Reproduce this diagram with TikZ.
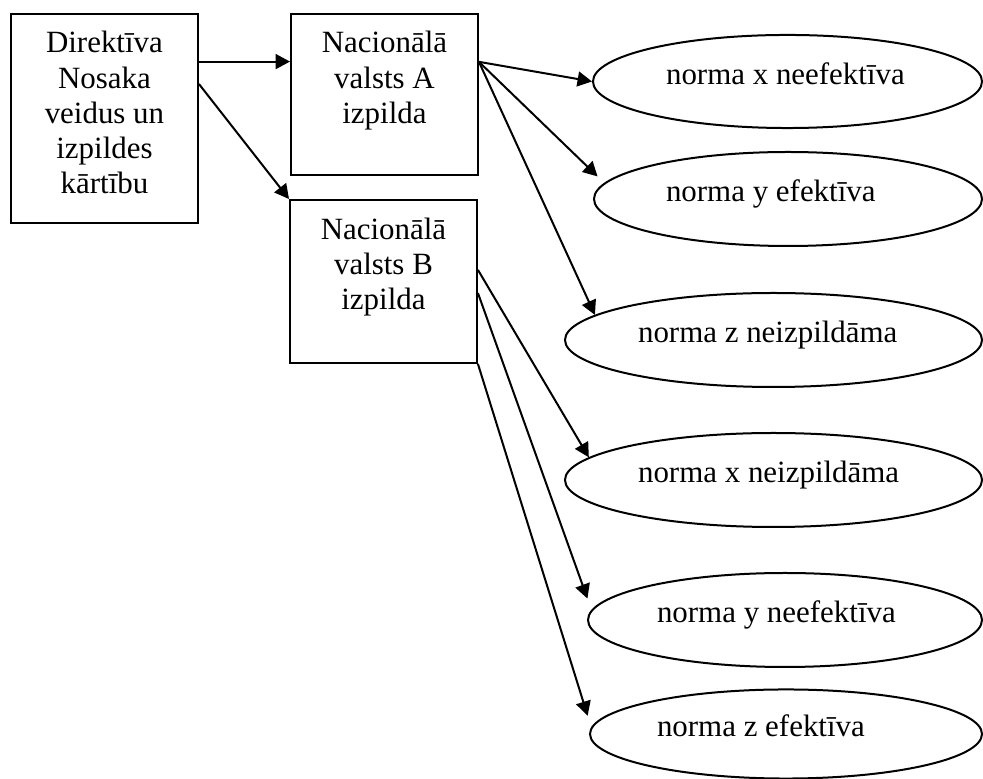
\documentclass[tikz,border=0pt]{standalone}
\usepackage{fontspec}
\setmainfont{Liberation Serif}
\usetikzlibrary{shapes.geometric,arrows.meta}

\begin{document}
\begin{tikzpicture}[x=0.375pt,y=-0.375pt,
	font=\fontsize{11.6pt}{13.2pt}\selectfont,
	line width=0.75pt,
	>={Triangle[length=5.4pt,width=5.6pt]},
	box/.style={draw,rectangle,anchor=north west,inner sep=0pt,text width=70.1pt,align=flush center,text height=14.7pt},
	norm/.style={draw,ellipse,inner sep=0pt,align=flush left,text height=6pt,text depth=3.75pt}]
	\useasboundingbox (0,0) rectangle (983,779);
	\node[box,text depth=63.8pt] (dir) at (10,12.7) {Direktīva\\ Nosaka\\ veidus un\\ izpildes\\ kārtību};
	\node[box,text depth=45.8pt] (natA) at (290,12.7) {Nacionālā\\ valsts A\\ izpilda};
	\node[box,text depth=46.4pt] (natB) at (289,199) {Nacionālā\\ valsts B\\ izpilda};
	\node[norm,minimum width=145.9pt,minimum height=34.9pt,text width=91.1pt] (xNe) at (787.5,81.5) {norma x neefektīva};
	\node[norm,minimum width=145.5pt,minimum height=35.25pt,text width=91.5pt] (yEf) at (788,199) {norma y efektīva};
	\node[norm,minimum width=156.4pt,minimum height=35.25pt,text width=101.6pt] (zNi) at (773.5,340) {norma z neizpildāma};
	\node[norm,minimum width=156.4pt,minimum height=35.25pt,text width=101.6pt] (xNi) at (773.5,480) {norma x neizpildāma};
	\node[norm,minimum width=147.75pt,minimum height=35.25pt,text width=96pt] (yNe) at (785,620) {norma y neefektīva};
	\node[norm,minimum width=147pt,minimum height=33.4pt,text width=96.75pt] (zEf) at (786,734) {norma z efektīva};
	\path[->]
	(dir.31.5) edge (natA.west |- dir.31.5)
	(dir.20.2) edge (natB.north west)
	(natA.19.6) edge (xNe.west)
	(natA.19.6) edge[shorten >=3.5pt] (yEf.175.8)
	(natA.19.6) edge (zNi.172.5)
	(natB.7.6) edge (xNi.173.3)
	(natB.-7) edge[shorten >=4.5pt] (yNe.177)
	(natB.south east) edge[shorten >=4.5pt] (zEf.178.4);
\end{tikzpicture}
\end{document}
